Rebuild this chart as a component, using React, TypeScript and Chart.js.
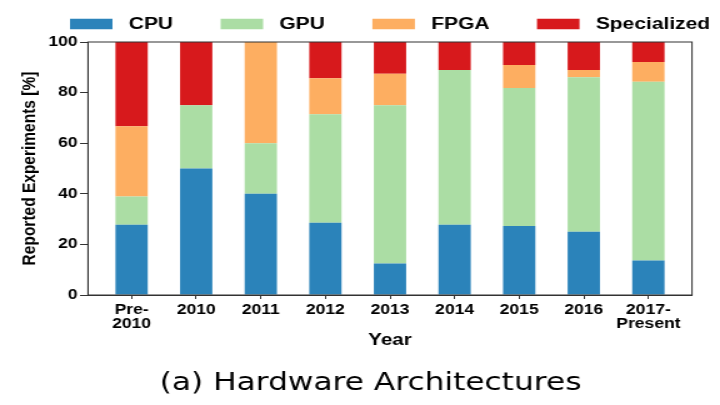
import React, { useEffect, useRef } from 'react';
import { Chart, registerables } from 'chart.js';

Chart.register(...registerables);

// ---- data ----
const categories: (string | string[])[] = [
  ['Pre-', '2010'], '2010', '2011', '2012', '2013', '2014', '2015', '2016', ['2017-', 'Present'],
];
const seriesNames = ['CPU', 'GPU', 'FPGA', 'Specialized'];
const cpu = [27.8, 50, 40, 28.6, 12.5, 27.8, 27.3, 25, 13.6];
const gpu = [11.1, 25, 20, 42.8, 62.5, 61.1, 54.5, 61.1, 70.7];
const fpga = [27.8, 0, 40, 14.3, 12.5, 0, 9.1, 2.8, 7.8];
const specialized = [33.3, 25, 0, 14.3, 12.5, 11.1, 9.1, 11.1, 7.9];
const seriesColors = ['#2b83ba', '#abdda4', '#fdae61', '#d7191c'];
const yMin = 0;
const yMax = 100;
const yStep = 20;
const xTitle = 'Year';
const yTitle = 'Reported Experiments [%]';
const captionText = '(a) Hardware Architectures';

// internal canvas is drawn narrower and shown stretched, like the reference
const CW = 576;
const CH = 405;
const FONT = "'Liberation Sans', Arial, sans-serif";

const placePlugin = {
  id: 'placeBlocks',
  afterLayout(chart: any) {
    const lg = chart.legend;
    if (lg) {
      lg.left = 18;
      lg.right = 900;
      lg.top = -22.45;
    }
    const tb = chart.titleBlock;
    if (tb) {
      const c = (tb.left + tb.right) / 2;
      const d = 296.4 - c;
      tb.left += d;
      tb.right += d;
    }
  },
  afterDraw(chart: any) {
    const { ctx, chartArea: a } = chart;
    ctx.save();
    ctx.strokeStyle = '#333';
    ctx.lineWidth = 1;
    ctx.strokeRect(a.left, a.top, a.right - a.left, a.bottom - a.top);
    ctx.restore();
  },
};

export default function App() {
  const ref = useRef<HTMLCanvasElement | null>(null);

  useEffect(() => {
    if (!ref.current) return;
    const series = [cpu, gpu, fpga, specialized];
    const chart = new Chart(ref.current, {
      type: 'bar',
      data: {
        datasets: series.map((vals, si) => ({
          label: seriesNames[si],
          data: vals.map((v, i) => ({ x: i, y: v })),
          backgroundColor: seriesColors[si],
          borderWidth: 0,
          categoryPercentage: 1,
          barPercentage: 0.5,
        })),
      },
      options: {
        responsive: false,
        animation: false,
        devicePixelRatio: 1,
        layout: { padding: { left: 0, right: 22.4, top: 0, bottom: 0 } },
        plugins: {
          tooltip: { enabled: false },
          legend: {
            display: true,
            position: 'top',
            align: 'start',
            maxHeight: 42,
            labels: {
              boxWidth: 34,
              boxHeight: 10.5,
              padding: 38,
              color: '#000',
              font: { family: FONT, size: 16.8, weight: 'bold', lineHeight: 1.2 },
              generateLabels: (ch: any) =>
                ch.data.datasets.map((ds: any, i: number) => ({
                  text: ' ' + ds.label,
                  fillStyle: ds.backgroundColor,
                  strokeStyle: ds.backgroundColor,
                  lineWidth: 0,
                  hidden: false,
                  datasetIndex: i,
                  fontColor: '#000',
                })),
            },
          },
          title: {
            display: true,
            position: 'bottom',
            text: captionText,
            color: '#000',
            font: { family: "'DejaVu Sans', sans-serif", size: 25, weight: 'normal', lineHeight: 1.2 },
            padding: { top: 17.5, bottom: 7 },
          },
        },
        scales: {
          x: {
            type: 'linear',
            stacked: true,
            offset: false,
            min: -0.675,
            max: categories.length - 1 + 0.675,
            afterBuildTicks: (scale: any) => {
              scale.ticks = categories.map((_, i) => ({ value: i }));
            },
            afterFit: (scale: any) => {
              scale.height = 55.5;
            },
            ticks: {
              autoSkip: false,
              maxRotation: 0,
              minRotation: 0,
              padding: 4,
              color: '#000',
              font: { family: FONT, size: 14, weight: 'bold', lineHeight: 1.02 },
              callback: (value: any) => {
                const i = Math.round(Number(value));
                return Math.abs(Number(value) - i) < 1e-6 && categories[i] !== undefined ? (categories[i] as any) : '';
              },
            },
            grid: { display: true, offset: false, drawOnChartArea: false, drawTicks: true, tickLength: 4, color: '#333' },
            border: { display: true, color: '#333', width: 1 },
            title: {
              display: true,
              text: xTitle,
              color: '#000',
              font: { family: FONT, size: 16.5, weight: 'bold', lineHeight: 1.2 },
              padding: { top: 0, bottom: 0 },
            },
          },
          y: {
            stacked: true,
            min: yMin,
            max: yMax,
            afterFit: (scale: any) => {
              scale.width = 70.4;
            },
            ticks: {
              stepSize: yStep,
              padding: 2,
              color: '#000',
              font: { family: FONT, size: 14, weight: 'bold', lineHeight: 1.2 },
            },
            grid: { display: true, drawOnChartArea: false, drawTicks: true, tickLength: 6.4, color: '#333' },
            border: { display: true, color: '#333', width: 1 },
            title: {
              display: true,
              text: yTitle,
              color: '#000',
              font: { family: FONT, size: 15.5, weight: 'bold', lineHeight: 1.2 },
              padding: { top: 14.3, bottom: 0 },
            },
          },
        },
      } as any,
      plugins: [placePlugin as any],
    });
    return () => chart.destroy();
  }, []);

  return (
    <div style={{ position: 'absolute', left: 0, top: 0, width: 720, height: 405, background: '#fff' }}>
      <canvas
        ref={ref}
        width={CW}
        height={CH}
        style={{ display: 'block', width: '720px', height: '405px' }}
      />
    </div>
  );
}
